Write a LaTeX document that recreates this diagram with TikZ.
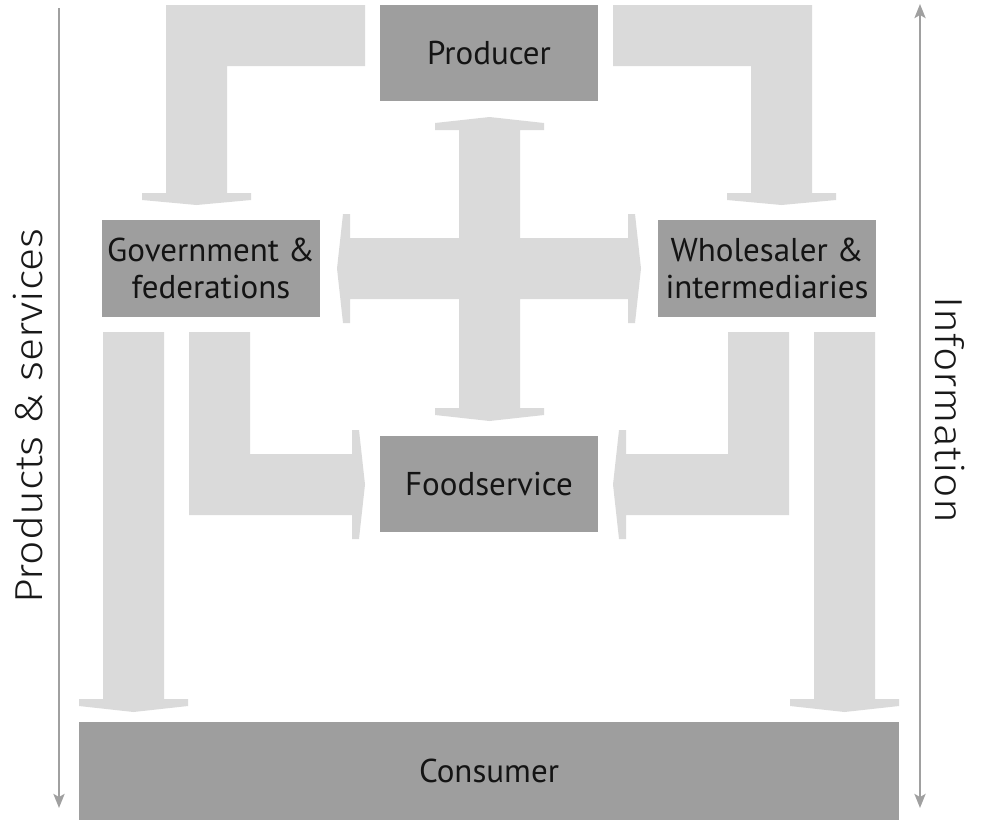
\documentclass[tikz,border=0pt]{standalone}
\usepackage{fontspec}
\setmainfont{PT Sans}
\newfontfamily\lightfont{Fira Sans Light}
\usetikzlibrary{arrows.meta}
\definecolor{boxgray}{HTML}{9E9E9E}
\definecolor{arrowgray}{HTML}{DADADA}
\definecolor{linegray}{HTML}{A0A0A0}
\begin{document}
\begin{tikzpicture}[x=1pt,y=-1pt,
  box/.style={fill=boxgray,draw=none,inner sep=0pt,align=center,
    font=\fontsize{33}{36.5}\selectfont,text=black!92},
  fat/.style={fill=arrowgray,draw=none},
  sidetip/.tip={Stealth[length=14pt,width=11pt,inset=3pt]},
  sideline/.style={draw=linegray,line width=2.6pt},
  sidelabel/.style={font=\lightfont\fontsize{39}{42}\selectfont,text=black!90,inner sep=0pt}]
\useasboundingbox (0,0) rectangle (981,820);
% boxes
\node[box,minimum width=218pt,minimum height=96pt] (prod) at (489,53) {Producer};
\node[box,minimum width=218pt,minimum height=97pt] (gov) at (211,268.5) {Government \&\\federations};
\node[box,minimum width=218pt,minimum height=97pt] (whole) at (767,268.5) {Wholesaler \&\\intermediaries};
\node[box,minimum width=218pt,minimum height=96pt] (food) at (489,484) {Foodservice};
\node[box,minimum width=820pt,minimum height=98pt] (cons) at (489,771) {Consumer};
% fat arrows
\fill[fat] (365,5) -- (166,5) -- (166,193) -- (142,193) -- (142,200) -- (196.5,205) -- (251,200) -- (251,193) -- (227,193) -- (227,66) -- (365,66) -- cycle;
\fill[fat] (613,5) -- (812,5) -- (812,193) -- (836,193) -- (836,200) -- (781.5,205) -- (727,200) -- (727,193) -- (751,193) -- (751,66) -- (613,66) -- cycle;
\fill[fat] (489.5,117) -- (544,123) -- (544,130) -- (520,130) -- (520,238) -- (628,238) -- (628,214) -- (635,214) -- (641,268.5) -- (635,323) -- (628,323) -- (628,299) -- (520,299) -- (520,408) -- (544,408) -- (544,415) -- (489.5,421) -- (435,415) -- (435,408) -- (459,408) -- (459,299) -- (350,299) -- (350,323) -- (343,323) -- (337,268.5) -- (343,214) -- (350,214) -- (350,238) -- (459,238) -- (459,130) -- (435,130) -- (435,123) -- cycle;
\fill[fat] (189,332) -- (250,332) -- (250,454) -- (352,454) -- (352,430) -- (359,430) -- (365,484.5) -- (359,539) -- (352,539) -- (352,515) -- (189,515) -- cycle;
\fill[fat] (789,332) -- (728,332) -- (728,454) -- (626,454) -- (626,430) -- (619,430) -- (613,484.5) -- (619,539) -- (626,539) -- (626,515) -- (789,515) -- cycle;
\fill[fat] (103,332) -- (164,332) -- (164,699) -- (188,699) -- (188,706) -- (133.5,712) -- (79,706) -- (79,699) -- (103,699) -- cycle;
\fill[fat] (875,332) -- (814,332) -- (814,699) -- (790,699) -- (790,706) -- (844.5,712) -- (899,706) -- (899,699) -- (875,699) -- cycle;
% side arrows
\coordinate (lt) at (59,8);
\coordinate (lb) at (59,808);
\coordinate (rt) at (920,4);
\coordinate (rb) at (920,808);
\draw[sideline,-sidetip] (lt) -- (lb);
\draw[sideline,sidetip-sidetip] (rt) -- (rb);
\node[sidelabel,rotate=90] (ps) at (28,416) {\scalebox{1.1}[1]{Products \& services}};
\node[sidelabel,rotate=-90] (info) at (950,410) {\scalebox{1.1}[1]{Information}};
\end{tikzpicture}
\end{document}
